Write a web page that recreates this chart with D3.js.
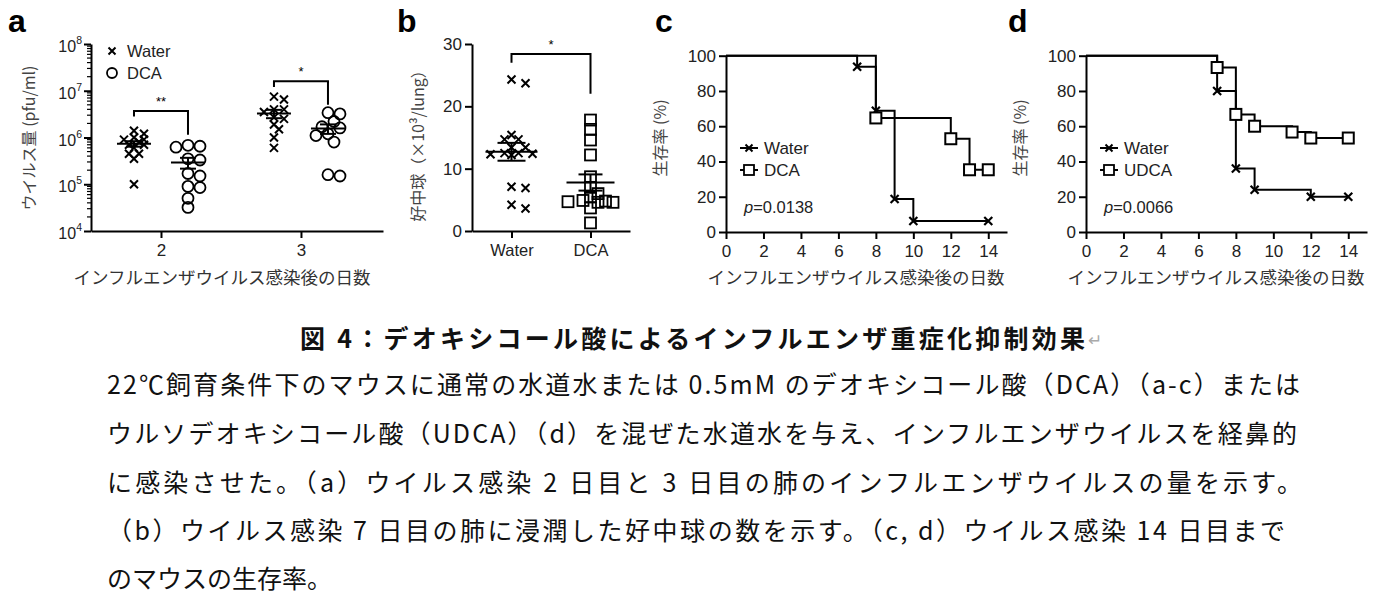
<!DOCTYPE html>
<html>
<head>
<meta charset="utf-8">
<script src="https://cdn.jsdelivr.net/npm/d3@7"></script>
<style>
  body { margin: 0; background: #fff; }
  svg text { font-family: "Liberation Sans", Arial, sans-serif; }
  svg text.jp { font-family: "Noto Sans CJK JP", sans-serif; }
</style>
</head>
<body>
<div id="chart"></div>
<script>
////////////////////////// Data //////////////////////////

// a: virus titre in lung (pfu/ml), day 2 and day 3
var virusDays = ['2', '3'];
var virusWaterD2 = [1.4e6, 1.2e6, 1.0e6, 9e5, 9e5, 8e5, 7e5, 7e5, 6e5, 4.5e5, 4.5e5, 3.5e5, 1e5];
var virusDcaD2 = [6.8e5, 6.5e5, 6.2e5, 3.5e5, 3.3e5, 1.7e5, 1.5e5, 9e4, 8.5e4, 5e4, 3.2e4];
var virusWaterD3 = [7.5e6, 6.5e6, 4e6, 4e6, 3.5e6, 2.7e6, 2.5e6, 1.9e6, 1.5e6, 1.0e6, 6e5];
var virusDcaD3 = [3.4e6, 3.2e6, 2.2e6, 1.7e6, 1.6e6, 1.2e6, 1.1e6, 8e5, 1.6e5, 1.5e5];
var virusTicks = [1e4, 1e5, 1e6, 1e7, 1e8];

// b: neutrophils (x10^3 / lung)
var neutroGroups = ['Water', 'DCA'];
var neutroWater = [23.7, 24.3, 14.7, 14.7, 15.4, 13.4, 13.4, 12.5, 12.3, 12.5, 12.2, 12.4, 7.1, 6.9, 3.6, 4.2];
var neutroDca = [17.8, 16.3, 14.6, 12.2, 8.7, 7.0, 6.0, 4.9, 4.6, 4.7, 4.8, 4.6, 5.5, 3.7, 1.3];
var neutroTicks = [0, 10, 20, 30];

// c: survival, Water vs DCA
var cWaterDays = [0, 7, 8, 9, 10, 14];
var cWaterPct = [100, 93.75, 68.75, 18.75, 6.25, 6.25];
var cDcaDays = [0, 8, 12, 13, 14];
var cDcaPct = [100, 64.7, 52.9, 35.3, 35.3];

// d: survival, Water vs UDCA
var dWaterDays = [0, 7, 8, 9, 12, 14];
var dWaterPct = [100, 80, 36, 24, 20, 20];
var dUdcaDays = [0, 7, 8, 9, 11, 12, 14];
var dUdcaPct = [100, 93.3, 66.7, 60, 56.7, 53.3, 53.3];

var survDayTicks = [0, 2, 4, 6, 8, 10, 12, 14];
var survPctTicks = [0, 20, 40, 60, 80, 100];

var xTitle = 'インフルエンザウイルス感染後の日数';

var captionTitle = '図 4：デオキシコール酸によるインフルエンザ重症化抑制効果';
var captionLines = [
  '22℃飼育条件下のマウスに通常の水道水または 0.5mM のデオキシコール酸（DCA）（a-c）または',
  'ウルソデオキシコール酸（UDCA）（d）を混ぜた水道水を与え、インフルエンザウイルスを経鼻的',
  'に感染させた。（a）ウイルス感染 2 日目と 3 日目の肺のインフルエンザウイルスの量を示す。',
  '（b）ウイルス感染 7 日目の肺に浸潤した好中球の数を示す。（c, d）ウイルス感染 14 日目まで',
  'のマウスの生存率。'
];

////////////////////////// Helpers //////////////////////////

var svg = d3.select('#chart').append('svg')
  .attr('width', 1381)
  .attr('height', 597);

function crossPath(r) {
  return 'M' + (-r) + ',' + (-r) + 'L' + r + ',' + r + 'M' + (-r) + ',' + r + 'L' + r + ',' + (-r);
}

// deterministic beeswarm, limited to +-maxOff around the centre
function swarm(vals, yScale, cx, step, minDist, maxOff) {
  var pts = vals.map(function(v) { return {v: v, y: yScale(v)}; })
    .sort(function(a, b) { return a.y - b.y; });
  var placed = [];
  var n = Math.floor(maxOff / step);
  pts.forEach(function(p) {
    var best = null, bestD = -1;
    for (var k = 0; k <= 2 * n; k++) {
      var x = cx + (k % 2 ? 1 : -1) * Math.ceil(k / 2) * step;
      var dmin = d3.min(placed, function(q) { return Math.hypot(q.x - x, q.y - p.y); });
      if (dmin === undefined) dmin = Infinity;
      if (dmin >= minDist) { best = x; break; }
      if (dmin > bestD) { bestD = dmin; best = x; }
    }
    p.x = best;
    placed.push(p);
  });
  return placed;
}

function styleAxis(g, fontSize) {
  g.select('.domain').attr('stroke', '#000').attr('stroke-width', 2);
  g.selectAll('.tick line').attr('stroke', '#000').attr('stroke-width', 2);
  g.selectAll('.tick text').attr('fill', '#222').style('font-size', (fontSize || 16) + 'px');
}

function meanSem(g, vals, y, cx, halfMean, halfCap) {
  var m = d3.mean(vals);
  var sem = d3.deviation(vals) / Math.sqrt(vals.length);
  g.append('line').attr('x1', cx - halfMean).attr('x2', cx + halfMean)
    .attr('y1', y(m)).attr('y2', y(m)).attr('stroke', '#000').attr('stroke-width', 2);
  g.append('line').attr('x1', cx).attr('x2', cx)
    .attr('y1', y(m - sem)).attr('y2', y(m + sem)).attr('stroke', '#000').attr('stroke-width', 2);
  [m - sem, m + sem].forEach(function(v) {
    g.append('line').attr('x1', cx - halfCap).attr('x2', cx + halfCap)
      .attr('y1', y(v)).attr('y2', y(v)).attr('stroke', '#000').attr('stroke-width', 2);
  });
}

function bracket(g, x1, x2, yTop, yLeft, yRight, label) {
  g.append('path')
    .attr('d', 'M' + x1 + ',' + yLeft + 'V' + yTop + 'H' + x2 + 'V' + yRight)
    .attr('fill', 'none').attr('stroke', '#000').attr('stroke-width', 2);
  g.append('text').attr('x', (x1 + x2) / 2).attr('y', yTop - 5)
    .attr('text-anchor', 'middle').style('font-size', '13px').text(label);
}

function panelLabel(x, txt) {
  svg.append('text').attr('x', x).attr('y', 32)
    .style('font-size', '32px').style('font-weight', 'bold').text(txt);
}

function yTitle(x, y, txt) {
  svg.append('text').attr('class', 'jp')
    .attr('transform', 'translate(' + x + ',' + y + ') rotate(-90)')
    .attr('text-anchor', 'middle').attr('fill', '#444')
    .style('font-size', '16px').text(txt);
}

function xTitleText(cx) {
  svg.append('text').attr('class', 'jp').attr('x', cx).attr('y', 284)
    .attr('text-anchor', 'middle').attr('fill', '#333').style('font-size', '17.5px').text(xTitle);
}

/////////////////////// Panel a ///////////////////////
panelLabel(8, 'a');

var xA = d3.scaleLinear().domain([1.5, 3.586]).range([91, 383]);
var yA = d3.scaleLog().domain([1e4, 1e8]).range([231, 44]);
var gA = svg.append('g');

var minorA = [];
[1e4, 1e5, 1e6, 1e7].forEach(function(b) {
  d3.range(2, 10).forEach(function(k) { minorA.push(b * k); });
});
gA.selectAll('.minor').data(minorA).enter().append('line')
  .attr('x1', 91).attr('x2', 87)
  .attr('y1', function(d) { return yA(d); }).attr('y2', function(d) { return yA(d); })
  .attr('stroke', '#000').attr('stroke-width', 1.2);

var axAy = gA.append('g').attr('transform', 'translate(91,0)')
  .call(d3.axisLeft(yA).tickValues(virusTicks).tickFormat('').tickSize(7).tickSizeOuter(0));
styleAxis(axAy);
virusTicks.forEach(function(t) {
  var tx = gA.append('text').attr('x', 82).attr('y', yA(t) + 8)
    .attr('text-anchor', 'end').attr('fill', '#222').style('font-size', '16px');
  tx.append('tspan').text('10');
  tx.append('tspan').attr('dy', -8).style('font-size', '10.5px').text(Math.round(Math.log10(t)));
});

var axAx = gA.append('g').attr('transform', 'translate(0,231)')
  .call(d3.axisBottom(xA).tickValues(virusDays.map(Number)).tickFormat(d3.format('d')).tickSize(7).tickSizeOuter(0));
styleAxis(axAx, 17);
axAx.selectAll('.tick text').attr('dy', '0.9em');

var offA = 27 / (xA(3) - xA(2));
var groupsA = [
  {vals: virusWaterD2, day: 2, off: -offA, shape: 'x'},
  {vals: virusDcaD2, day: 2, off: offA, shape: 'o'},
  {vals: virusWaterD3, day: 3, off: -offA, shape: 'x'},
  {vals: virusDcaD3, day: 3, off: offA, shape: 'o'}
];
groupsA.forEach(function(grp) {
  var cx = xA(grp.day + grp.off);
  var pts = grp.shape === 'x' ? swarm(grp.vals, yA, cx, 5, 6, 12) : swarm(grp.vals, yA, cx, 6, 9, 12);
  if (grp.shape === 'x') {
    gA.selectAll(null).data(pts).enter().append('path')
      .attr('transform', function(d) { return 'translate(' + d.x + ',' + d.y + ')'; })
      .attr('d', crossPath(4)).attr('stroke', '#000').attr('stroke-width', 2);
  } else {
    gA.selectAll(null).data(pts).enter().append('circle')
      .attr('cx', function(d) { return d.x; }).attr('cy', function(d) { return d.y; })
      .attr('r', 5.5).attr('fill', 'none').attr('stroke', '#000').attr('stroke-width', 1.8);
  }
  meanSem(gA, grp.vals, yA, cx, 17, 8);
});

bracket(gA, xA(2 - offA), xA(2 + offA), yA(3.7e6), yA(2.8e6), yA(1.15e6), '**');
bracket(gA, xA(3 - offA), xA(3 + offA), yA(1.6e7), yA(1.2e7), yA(5e6), '*');

// legend a
gA.append('path').attr('transform', 'translate(112,51)').attr('d', crossPath(3.5))
  .attr('stroke', '#000').attr('stroke-width', 2);
gA.append('text').attr('x', 127).attr('y', 57).style('font-size', '16.5px').attr('fill', '#222').text('Water');
gA.append('circle').attr('cx', 112).attr('cy', 73).attr('r', 5)
  .attr('fill', 'none').attr('stroke', '#000').attr('stroke-width', 1.8);
gA.append('text').attr('x', 127).attr('y', 79).style('font-size', '16.5px').attr('fill', '#222').text('DCA');

yTitle(35, 138, 'ウイルス量 (pfu/ml)');
xTitleText(222);

/////////////////////// Panel b ///////////////////////
panelLabel(397, 'b');

var xB = d3.scalePoint().domain(neutroGroups).range([472, 630]).padding(0.5);
var yB = d3.scaleLinear().domain([0, 30]).range([231, 44]);
var gB = svg.append('g');

var axBy = gB.append('g').attr('transform', 'translate(472,0)')
  .call(d3.axisLeft(yB).tickValues(neutroTicks).tickSize(7).tickSizeOuter(0));
styleAxis(axBy, 17);
var axBx = gB.append('g').attr('transform', 'translate(0,231)')
  .call(d3.axisBottom(xB).tickSize(7).tickSizeOuter(0));
styleAxis(axBx, 16.5);
axBx.selectAll('.tick text').attr('dy', '0.9em');

var ptsBw = swarm(neutroWater, yB, xB('Water'), 7, 8, 24);
gB.selectAll(null).data(ptsBw).enter().append('path')
  .attr('transform', function(d) { return 'translate(' + d.x + ',' + d.y + ')'; })
  .attr('d', crossPath(4)).attr('stroke', '#000').attr('stroke-width', 2);
var ptsBd = swarm(neutroDca, yB, xB('DCA'), 7.5, 8, 24);
gB.selectAll(null).data(ptsBd).enter().append('rect')
  .attr('x', function(d) { return d.x - 5.5; }).attr('y', function(d) { return d.y - 5.5; })
  .attr('width', 11).attr('height', 11)
  .attr('fill', 'none').attr('stroke', '#000').attr('stroke-width', 1.8);
meanSem(gB, neutroWater, yB, xB('Water'), 26, 14);
meanSem(gB, neutroDca, yB, xB('DCA'), 24, 12);
bracket(gB, xB('Water'), xB('DCA'), yB(28.4), yB(27), yB(22), '*');

yTitle(424, 142, '好中球（×10³/lung）');

/////////////////////// Panels c, d ///////////////////////
function survivalPanel(x0, series, legendNames, pText) {
  var x = d3.scaleLinear().domain([0, 15]).range([x0, x0 + 281]);
  var y = d3.scaleLinear().domain([0, 100]).range([232, 55.7]);
  var g = svg.append('g');

  var ay = g.append('g').attr('transform', 'translate(' + x0 + ',0)')
    .call(d3.axisLeft(y).tickValues(survPctTicks).tickSize(7).tickSizeOuter(0));
  styleAxis(ay, 17);
  var ax = g.append('g').attr('transform', 'translate(0,232)')
    .call(d3.axisBottom(x).tickValues(survDayTicks).tickSize(7).tickSizeOuter(0));
  styleAxis(ax, 17);
  ax.selectAll('.tick text').attr('dy', '0.9em');

  var line = d3.line()
    .x(function(d) { return x(d[0]); })
    .y(function(d) { return y(d[1]); })
    .curve(d3.curveStepAfter);

  series.forEach(function(s) {
    var pts = d3.zip(s.days, s.pct);
    g.append('path').attr('d', line(pts))
      .attr('fill', 'none').attr('stroke', '#000').attr('stroke-width', 2);
    var marks = pts.slice(1);
    if (s.shape === 'x') {
      g.selectAll(null).data(marks).enter().append('path')
        .attr('transform', function(d) { return 'translate(' + x(d[0]) + ',' + y(d[1]) + ')'; })
        .attr('d', crossPath(4)).attr('stroke', '#000').attr('stroke-width', 2.2);
    } else {
      g.selectAll(null).data(marks).enter().append('rect')
        .attr('x', function(d) { return x(d[0]) - 5.5; })
        .attr('y', function(d) { return y(d[1]) - 5.5; })
        .attr('width', 11).attr('height', 11)
        .attr('fill', '#fff').attr('stroke', '#000').attr('stroke-width', 2);
    }
  });

  // legend
  series.forEach(function(s, i) {
    var ly = 148 + i * 22, lx = x0 + 14;
    g.append('line').attr('x1', lx).attr('x2', lx + 18).attr('y1', ly).attr('y2', ly)
      .attr('stroke', '#000').attr('stroke-width', 2);
    if (s.shape === 'x') {
      g.append('path').attr('transform', 'translate(' + (lx + 9) + ',' + ly + ')')
        .attr('d', crossPath(3.5)).attr('stroke', '#000').attr('stroke-width', 2);
    } else {
      g.append('rect').attr('x', lx + 4).attr('y', ly - 5).attr('width', 10).attr('height', 10)
        .attr('fill', '#fff').attr('stroke', '#000').attr('stroke-width', 1.8);
    }
    g.append('text').attr('x', lx + 24).attr('y', ly + 6)
      .style('font-size', '17px').attr('fill', '#222').text(legendNames[i]);
  });

  var pt = g.append('text').attr('x', x0 + 18).attr('y', 213)
    .style('font-size', '16.5px').attr('fill', '#222');
  pt.append('tspan').style('font-style', 'italic').text('p');
  pt.append('tspan').text('=' + pText);

  yTitle(x0 - 60, 138, '生存率 (%)');
  xTitleText(x0 + 130);
}

panelLabel(655, 'c');
survivalPanel(726, [
  {days: cWaterDays, pct: cWaterPct, shape: 'x'},
  {days: cDcaDays, pct: cDcaPct, shape: 's'}
], ['Water', 'DCA'], '0.0138');

panelLabel(1008, 'd');
survivalPanel(1086, [
  {days: dWaterDays, pct: dWaterPct, shape: 'x'},
  {days: dUdcaDays, pct: dUdcaPct, shape: 's'}
], ['Water', 'UDCA'], '0.0066');

/////////////////////// Caption ///////////////////////
svg.append('text').attr('class', 'jp').attr('x', 300).attr('y', 348)
  .attr('textLength', 785).attr('lengthAdjust', 'spacing')
  .style('font-size', '25px').style('font-weight', 'bold').attr('fill', '#111')
  .text(captionTitle);
svg.append('text').attr('class', 'jp').attr('x', 1088).attr('y', 346)
  .style('font-size', '17px').attr('fill', '#aaa').text('↵');

var captionWidths = [1193, 1190, 1195, 1178, null];
var captionBase = [394, 443, 492, 540, 588];
captionLines.forEach(function(t, i) {
  var tx = svg.append('text').attr('class', 'jp').attr('x', 107).attr('y', captionBase[i])
    .style('font-size', '25px').attr('fill', '#111').text(t);
  if (captionWidths[i]) tx.attr('textLength', captionWidths[i]).attr('lengthAdjust', 'spacing');
});
</script>
</body>
</html>
